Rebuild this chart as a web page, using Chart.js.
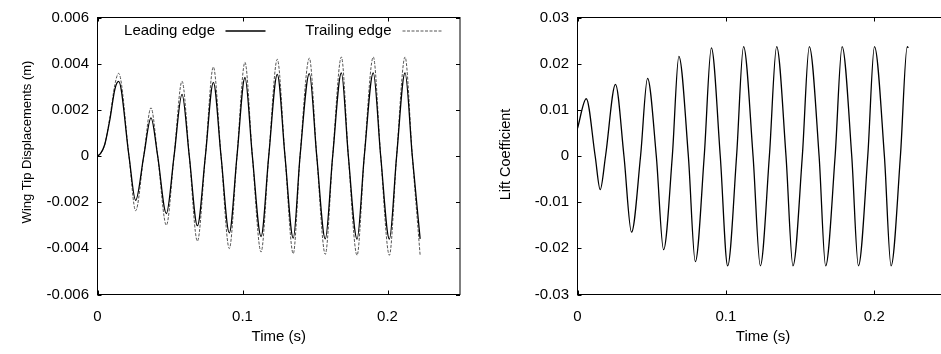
<!DOCTYPE html>
<html>
<head>
<meta charset="utf-8">
<script src="https://cdn.jsdelivr.net/npm/chart.js@4.4.0/dist/chart.umd.min.js"></script>
<style>
  html, body { margin: 0; padding: 0; background: #fff; overflow: hidden; width: 941px; height: 354px; }
  .panel { position: absolute; top: 0; height: 354px; }
  #left { left: 0; width: 470px; }
  #right { left: 480px; width: 480px; }
</style>
</head>
<body>
<div class="panel" id="left"><canvas id="dispChart"></canvas></div>
<div class="panel" id="right"><canvas id="liftChart"></canvas></div>
<script>
// wing tip displacement (m)
const dispTime = [0, 0.002, 0.005, 0.0086, 0.012, 0.0146, 0.0217, 0.0263, 0.0319, 0.0369, 0.0415,
  0.0475, 0.0528, 0.0583, 0.0633, 0.0689, 0.0744, 0.0799, 0.0852, 0.0909, 0.0962, 0.1017, 0.1068,
  0.1128, 0.1181, 0.124, 0.1293, 0.135, 0.1397, 0.1461, 0.1512, 0.1571, 0.1622, 0.1682, 0.173,
  0.179, 0.184, 0.1902, 0.1953, 0.2013, 0.2063, 0.2121, 0.2171, 0.2225];
const leadingEdge = [0, 0.0001, 0.0005, 0.0016, 0.0029, 0.00323, 0, -0.00192, 0, 0.00165, 0,
  -0.00249, 0, 0.00267, 0, -0.00302, 0, 0.00319, 0, -0.00333, 0, 0.0034, 0, -0.00349, 0, 0.00354,
  0, -0.00356, 0, 0.00357, 0, -0.00359, 0, 0.0036, 0, -0.0036, 0, 0.0036, 0, -0.0036, 0, 0.0036,
  0, -0.00359];
const trailingEdge = [0, 0.0001, 0.0005, 0.0017, 0.0031, 0.00358, 0, -0.00237, 0, 0.00209, 0,
  -0.0030, 0, 0.00324, 0, -0.00369, 0, 0.00386, 0, -0.00401, 0, 0.00406, 0, -0.00416, 0, 0.00419,
  0, -0.00423, 0, 0.00424, 0, -0.00426, 0, 0.00429, 0, -0.0043, 0, 0.00429, 0, -0.0043, 0, 0.00429,
  0, -0.0043];

// lift coefficient, right panel
const liftTime = [0, 0.0059, 0.0119, 0.0153, 0.0189, 0.0256, 0.0313, 0.0364, 0.0425, 0.0472,
  0.0531, 0.058, 0.0639, 0.0683, 0.0747, 0.0794, 0.0854, 0.0902, 0.0962, 0.1012, 0.1072, 0.1119,
  0.1183, 0.1232, 0.1293, 0.1342, 0.1405, 0.1452, 0.1515, 0.1562, 0.1628, 0.1672, 0.1736, 0.1783,
  0.1848, 0.1893, 0.1956, 0.2001, 0.2068, 0.2113, 0.2176, 0.2222, 0.2229];
const liftCoeff = [0.006, 0.0124, 0, -0.0073, 0, 0.0155, 0, -0.0165, 0, 0.0168, 0, -0.0203, 0,
  0.0216, 0, -0.0229, 0, 0.0234, 0, -0.0238, 0, 0.0237, 0, -0.0238, 0, 0.0237, 0, -0.0238, 0,
  0.0237, 0, -0.0238, 0, 0.0237, 0, -0.0238, 0, 0.0237, 0, -0.0238, 0, 0.0237, 0.0234];

// ticks
const timeTicks = [0, 0.1, 0.2];
const timeTickLabels = ['0', '0.1', '0.2'];
const dispTicks = [-0.006, -0.004, -0.002, 0, 0.002, 0.004, 0.006];
const dispTickLabels = ['-0.006', '-0.004', '-0.002', '0', '0.002', '0.004', '0.006'];
const liftTicks = [-0.03, -0.02, -0.01, 0, 0.01, 0.02, 0.03];
const liftTickLabels = ['-0.03', '-0.02', '-0.01', '0', '0.01', '0.02', '0.03'];

const FONT = '"Liberation Sans", Arial, Helvetica, sans-serif';
Chart.defaults.color = '#000';
Chart.defaults.font.family = FONT;

const pts = (xs, ys) => xs.map((x, i) => ({ x: x, y: ys[i] }));

// gnuplot-like frame with inward ticks on all four sides
const framePlugin = {
  id: 'frame',
  afterDatasetsDraw(chart) {
    const { ctx, chartArea: a, scales } = chart;
    const x = scales.x, y = scales.y;
    ctx.save();
    ctx.strokeStyle = '#000';
    ctx.lineWidth = 1;
    ctx.strokeRect(a.left, a.top, a.right - a.left, a.bottom - a.top);
    ctx.beginPath();
    x.ticks.forEach(t => {
      const px = Math.round(x.getPixelForValue(t.value)) + 0.5;
      ctx.moveTo(px, a.bottom); ctx.lineTo(px, a.bottom - 4);
      ctx.moveTo(px, a.top); ctx.lineTo(px, a.top + 4);
    });
    y.ticks.forEach(t => {
      const py = Math.round(y.getPixelForValue(t.value)) + 0.5;
      ctx.moveTo(a.left, py); ctx.lineTo(a.left + 4, py);
      ctx.moveTo(a.right, py); ctx.lineTo(a.right - 4, py);
    });
    ctx.stroke();
    ctx.restore();
  }
};

// legend as drawn by gnuplot: label text, then the line sample
const edgeLegend = {
  id: 'edgeLegend',
  afterDraw(chart, args, opts) {
    if (!opts.items) return;
    const { ctx, chartArea: a } = chart;
    ctx.save();
    ctx.font = '15px ' + FONT;
    ctx.textAlign = 'right';
    ctx.textBaseline = 'middle';
    ctx.fillStyle = '#000';
    const y = a.top + 13;
    opts.items.forEach(it => {
      const ds = chart.data.datasets[it.dataset];
      ctx.fillText(ds.label, a.left + it.textEnd, y);
      ctx.strokeStyle = ds.borderColor;
      ctx.lineWidth = ds.borderWidth;
      ctx.setLineDash(ds.borderDash || []);
      ctx.beginPath();
      ctx.moveTo(a.left + it.lineStart, y + 0.5);
      ctx.lineTo(a.left + it.lineStart + 40, y + 0.5);
      ctx.stroke();
    });
    ctx.restore();
  }
};

// rotated y-axis title, placed where gnuplot put it
const sideTitle = {
  id: 'sideTitle',
  afterDraw(chart, args, opts) {
    if (!opts.text) return;
    const ctx = chart.ctx;
    ctx.save();
    ctx.font = opts.size + 'px ' + FONT;
    ctx.fillStyle = '#000';
    ctx.textAlign = 'center';
    ctx.textBaseline = 'middle';
    ctx.translate(opts.x, opts.y);
    ctx.rotate(-Math.PI / 2);
    ctx.fillText(opts.text, 0, 0);
    ctx.restore();
  }
};

function makeScales(yMin, yMax, yTicks, yLabels) {
  return {
    x: {
      type: 'linear', min: 0, max: 0.25,
      grid: { display: false, drawTicks: false },
      border: { display: false },
      afterFit: s => { s.height = 59.5; },
      afterBuildTicks: s => { s.ticks = timeTicks.map(v => ({ value: v })); },
      ticks: { padding: 13, font: { size: 15 }, maxRotation: 0, callback: (v, i) => timeTickLabels[i] },
      title: { display: true, text: 'Time (s)', font: { size: 15 }, padding: { top: 0, bottom: 8 } }
    },
    y: {
      type: 'linear', min: yMin, max: yMax,
      grid: { display: false, drawTicks: false },
      border: { display: false },
      afterFit: s => { s.width = 97.5; },
      afterBuildTicks: s => { s.ticks = yTicks.map(v => ({ value: v })); },
      ticks: { padding: 8.5, font: { size: 15 }, callback: (v, i) => yLabels[i] }
    }
  };
}

const common = {
  responsive: true,
  maintainAspectRatio: false,
  animation: false,
  events: [],
  elements: { point: { radius: 0 }, line: { cubicInterpolationMode: 'monotone', fill: false } }
};

new Chart(document.getElementById('dispChart'), {
  type: 'line',
  data: {
    datasets: [
      { label: 'Leading edge', data: pts(dispTime, leadingEdge), borderColor: '#000', borderWidth: 1.3 },
      { label: 'Trailing edge', data: pts(dispTime, trailingEdge), borderColor: '#555', borderWidth: 1, borderDash: [3, 1.5] }
    ]
  },
  options: Object.assign({}, common, {
    layout: { padding: { top: 14, right: 10, left: 0, bottom: 0 } },
    scales: makeScales(-0.006, 0.006, dispTicks, dispTickLabels),
    plugins: {
      legend: { display: false },
      tooltip: { enabled: false },
      sideTitle: { text: 'Wing Tip Displacements (m)', size: 13, x: 27, y: 142 },
      edgeLegend: { items: [
        { dataset: 0, textEnd: 117.5, lineStart: 128 },
        { dataset: 1, textEnd: 294, lineStart: 305 }
      ] }
    }
  }),
  plugins: [framePlugin, edgeLegend, sideTitle]
});

new Chart(document.getElementById('liftChart'), {
  type: 'line',
  data: {
    datasets: [
      { label: 'Lift Coefficient', data: pts(liftTime, liftCoeff), borderColor: '#000', borderWidth: 1.3 }
    ]
  },
  options: Object.assign({}, common, {
    layout: { padding: { top: 14, right: 11.5, left: 0, bottom: 0 } },
    scales: makeScales(-0.03, 0.03, liftTicks, liftTickLabels),
    plugins: {
      legend: { display: false },
      tooltip: { enabled: false },
      sideTitle: { text: 'Lift Coefficient', size: 14.5, x: 26, y: 154.5 }
    }
  }),
  plugins: [framePlugin, sideTitle]
});
</script>
</body>
</html>
